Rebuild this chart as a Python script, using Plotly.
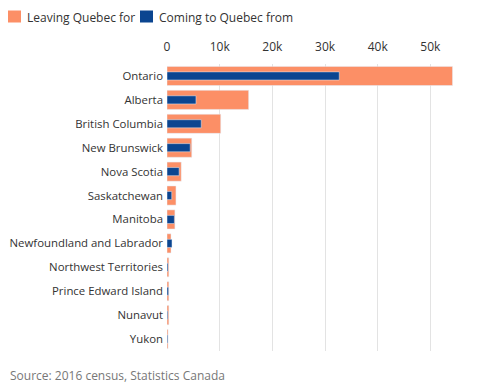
import plotly.graph_objects as go

provinces = ["Ontario", "Alberta", "British Columbia", "New Brunswick", "Nova Scotia",
             "Saskatchewan", "Manitoba", "Newfoundland and Labrador", "Northwest Territories",
             "Prince Edward Island", "Nunavut", "Yukon"]
leaving = [54200, 15500, 10200, 4700, 2700, 1700, 1500, 760, 350, 350, 350, 200]
coming = [32700, 5500, 6500, 4400, 2300, 900, 1400, 950, 200, 300, 150, 150]
tick_vals = [0, 10000, 20000, 30000, 40000, 50000]
tick_text = ["0", "10k", "20k", "30k", "40k", "50k"]
series_names = ["Leaving Quebec for", "Coming to Quebec from"]
series_colors = ["#fc8f66", "#0b4590"]

W, H = 470, 383
L, R, T, B = 159, 16, 56, 40
PW, PH = W - L - R, H - T - B


def px_x(fx):
    return (fx - L) / PW


def px_y(fy):
    return (T + PH - fy) / PH


fig = go.Figure()
fig.add_trace(go.Bar(y=provinces, x=leaving, orientation="h", name=series_names[0],
                     marker_color=series_colors[0], width=0.8, showlegend=False))
fig.add_trace(go.Bar(y=provinces, x=coming, orientation="h", name=series_names[1],
                     marker_color=series_colors[1], width=0.34, showlegend=False))

# legend drawn as swatches + labels
legend_x = [0, 132]
shapes, annotations = [], []
for name, color, lx in zip(series_names, series_colors, legend_x):
    shapes.append(dict(type="rect", xref="paper", yref="paper",
                       x0=px_x(lx), x1=px_x(lx + 13), y0=px_y(14.5), y1=px_y(2.5),
                       fillcolor=color, line=dict(width=0)))
    annotations.append(dict(text=name, xref="paper", yref="paper", x=px_x(lx + 18), y=px_y(9.5),
                            xanchor="left", yanchor="middle", showarrow=False, borderpad=0,
                            font=dict(size=12, color="#333")))

annotations.append(dict(text="Source: 2016 census, Statistics Canada", xref="paper", yref="paper",
                        x=px_x(0), y=-24 / PH, xanchor="left", yanchor="middle", showarrow=False,
                        font=dict(size=12, color="#777")))

fig.update_layout(
    width=W, height=H,
    barmode="overlay",
    showlegend=False,
    plot_bgcolor="white", paper_bgcolor="white",
    font=dict(family="Open Sans", size=12, color="#333"),
    margin=dict(l=L, r=R, t=T, b=B, autoexpand=False),
    xaxis=dict(side="top", range=[0, 56000], tickvals=tick_vals, ticktext=tick_text,
               showgrid=True, gridcolor="#e3e3e3", zeroline=False, ticks="", automargin=False,
               ticklabelstandoff=10,
               tickfont=dict(size=12, color="#333"), fixedrange=True),
    yaxis=dict(autorange="reversed", ticks="", showgrid=False, automargin=False,
               ticklabelstandoff=3,
               tickfont=dict(size=11.4, color="#333")),
    bargap=0.2,
    shapes=shapes,
    annotations=annotations,
)

fig.write_html("out.html")
